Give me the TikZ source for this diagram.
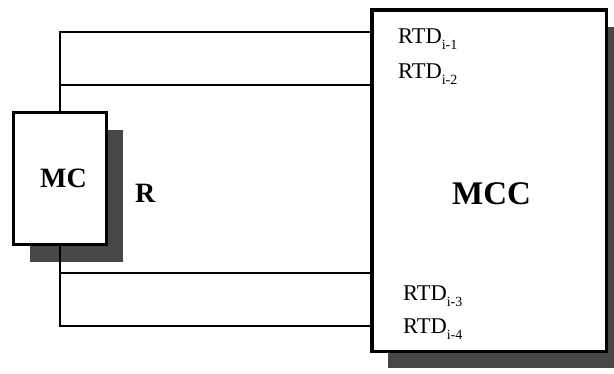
\documentclass[tikz,border=0pt]{standalone}
\usepackage{fontspec}
\setmainfont{Liberation Serif}
\usepackage{tkz-euclide}
\usetikzlibrary{shadows}
\newcommand\rtdsub[1]{\raisebox{-6pt}{\fontsize{14}{14}\selectfont#1}}

\begin{document}
\begin{tikzpicture}[x=1pt,y=-1pt,
    box/.style={draw,fill=white,inner sep=0pt,
      drop shadow={shadow xshift=16pt,shadow yshift=-17pt,fill=black!72,opacity=1}},
    wire/.style={line width=1.3pt},
    rtd/.style={anchor=base west,inner sep=0pt,font=\fontsize{22.5}{22.5}\selectfont},
    big/.style={anchor=base west,inner sep=0pt,font=\bfseries\fontsize{#1}{#1}\selectfont}]
  \useasboundingbox (0,0) rectangle (614,373);
  \clip (0,0) rectangle (614,373);
  % boxes
  \node[box,line width=3pt,minimum width=93pt,minimum height=132pt] (mc) at (60,178.5) {};
  \node[box,line width=3.5pt,minimum width=234.5pt,minimum height=341.5pt] (mcc) at (489,180.5) {};
  \node[big=28] (mctxt) at (40,187) {MC};
  \node[big=28] (r) at (135,202) {R};
  \node[big=33] (mcctxt) at (452,204) {MCC};
  % wires
  \tkzDefPoints{60/32/A,60/85/B,60/273/C,60/326/D}
  \draw[wire] (mc.north) |- (mcc.west |- A);
  \draw[wire] (B) -- (mcc.west |- B);
  \draw[wire] (mc.south) |- (mcc.west |- D);
  \draw[wire] (C) -- (mcc.west |- C);
  % inputs
  \node[rtd] (rtd1) at (398,43) {RTD\rtdsub{i-1}};
  \node[rtd] (rtd2) at (398,78) {RTD\rtdsub{i-2}};
  \node[rtd] (rtd3) at (403,300) {RTD\rtdsub{i-3}};
  \node[rtd] (rtd4) at (403,333) {RTD\rtdsub{i-4}};
\end{tikzpicture}
\end{document}
